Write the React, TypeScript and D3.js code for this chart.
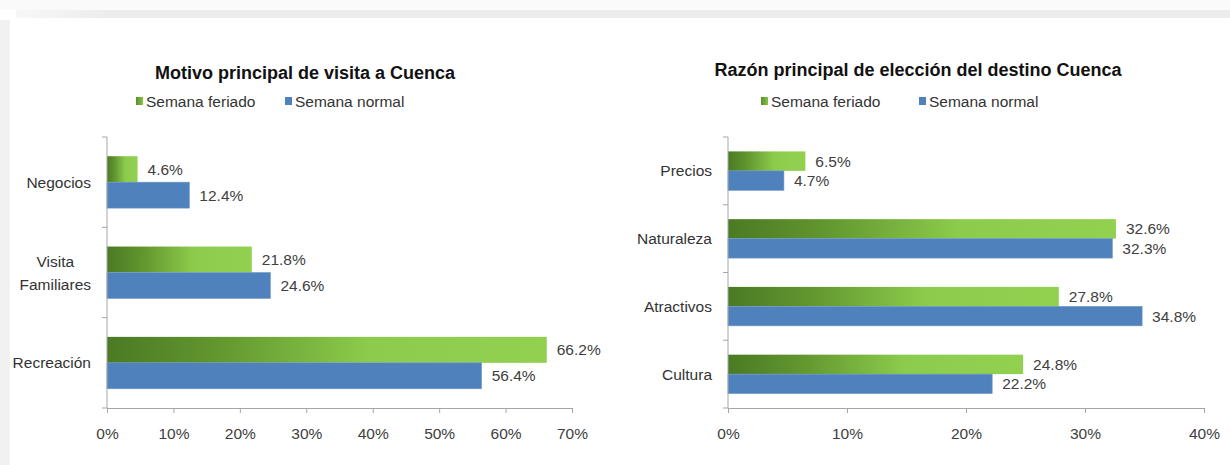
import React, { useEffect, useRef } from "react";
import * as d3 from "d3";

// ---------- data ----------
const SERIES = ["Semana feriado", "Semana normal"];

const LEFT_TITLE = "Motivo principal de visita a Cuenca";
const LEFT_CATEGORIES = ["Negocios", "Visita\nFamiliares", "Recreación"];
const LEFT_FERIADO = [4.6, 21.8, 66.2];
const LEFT_NORMAL = [12.4, 24.6, 56.4];
const LEFT_TICKS = [0, 10, 20, 30, 40, 50, 60, 70];

const RIGHT_TITLE = "Razón principal de elección del destino Cuenca";
const RIGHT_CATEGORIES = ["Precios", "Naturaleza", "Atractivos", "Cultura"];
const RIGHT_FERIADO = [6.5, 32.6, 27.8, 24.8];
const RIGHT_NORMAL = [4.7, 32.3, 34.8, 22.2];
const RIGHT_TICKS = [0, 10, 20, 30, 40];

// ---------- layout ----------
const W = 1230;
const H = 465;
const FONT = "'Liberation Sans', Arial, sans-serif";
const BLUE = "#4f81bd";
const AXIS = "#a6a6a6";
const TEXT = "#404040";

type Panel = {
  title: string;
  cats: string[];
  feriado: number[];
  normal: number[];
  ticks: number[];
  x0: number;
  x1: number;
  y0: number;
  y1: number;
  titleX: number;
  titleY: number;
  legendX: [number, number];
  legendY: number;
};

const PANELS: Panel[] = [
  {
    title: LEFT_TITLE,
    cats: LEFT_CATEGORIES,
    feriado: LEFT_FERIADO,
    normal: LEFT_NORMAL,
    ticks: LEFT_TICKS,
    x0: 107,
    x1: 572,
    y0: 137,
    y1: 408,
    titleX: 305,
    titleY: 79,
    legendX: [136, 285],
    legendY: 107,
  },
  {
    title: RIGHT_TITLE,
    cats: RIGHT_CATEGORIES,
    feriado: RIGHT_FERIADO,
    normal: RIGHT_NORMAL,
    ticks: RIGHT_TICKS,
    x0: 728,
    x1: 1204,
    y0: 137,
    y1: 408,
    titleX: 918,
    titleY: 76,
    legendX: [761, 919],
    legendY: 107,
  },
];

function drawPanel(svg: d3.Selection<SVGSVGElement, unknown, null, undefined>, p: Panel) {
  const g = svg.append("g");
  const max = p.ticks[p.ticks.length - 1];
  const x = d3.scaleLinear().domain([0, max]).range([p.x0, p.x1]);
  const y = d3.scaleBand<string>().domain(p.cats).range([p.y0, p.y1]).paddingInner(0).paddingOuter(0);
  const inner = d3
    .scaleBand<string>()
    .domain(SERIES)
    .range([0, y.bandwidth()])
    .paddingInner(0)
    .paddingOuter(0.74);

  // title
  g.append("text")
    .attr("x", p.titleX)
    .attr("y", p.titleY)
    .attr("text-anchor", "middle")
    .attr("font-family", FONT)
    .attr("font-weight", "bold")
    .attr("font-size", 18)
    .attr("fill", "#111")
    .text(p.title);

  // legend
  SERIES.forEach((s, i) => {
    const lx = p.legendX[i];
    g.append("rect")
      .attr("x", lx)
      .attr("y", p.legendY - 10)
      .attr("width", 7)
      .attr("height", 8)
      .attr("fill", i === 0 ? "url(#legendGreen)" : BLUE);
    g.append("text")
      .attr("x", lx + 10)
      .attr("y", p.legendY)
      .attr("font-family", FONT)
      .attr("font-size", 15.5)
      .attr("fill", "#333")
      .text(s);
  });

  // bars
  const rows = p.cats.map((c, i) => ({ cat: c, vals: [p.feriado[i], p.normal[i]] }));
  rows.forEach((r) => {
    r.vals.forEach((v, si) => {
      const by = (y(r.cat) as number) + (inner(SERIES[si]) as number);
      const bh = inner.bandwidth();
      g.append("rect")
        .attr("x", x(0))
        .attr("y", by)
        .attr("width", x(v) - x(0))
        .attr("height", bh)
        .attr("fill", si === 0 ? "url(#greenGrad)" : BLUE)
        .attr("stroke", si === 0 ? "none" : "#6f98c9")
        .attr("stroke-width", si === 0 ? 0 : 0.6);
      g.append("text")
        .attr("x", x(v) + 10)
        .attr("y", by + bh / 2)
        .attr("dy", "0.36em")
        .attr("font-family", FONT)
        .attr("font-size", 15.5)
        .attr("fill", TEXT)
        .text(d3.format(".1f")(v) + "%");
    });
  });

  // category axis
  g.append("line")
    .attr("x1", p.x0)
    .attr("x2", p.x0)
    .attr("y1", p.y0)
    .attr("y2", p.y1)
    .attr("stroke", AXIS);
  const bounds = p.cats.map((c) => y(c) as number).concat([p.y1]);
  bounds.forEach((b) => {
    g.append("line")
      .attr("x1", p.x0 - 5)
      .attr("x2", p.x0)
      .attr("y1", b)
      .attr("y2", b)
      .attr("stroke", AXIS);
  });

  // category labels
  p.cats.forEach((c) => {
    const lines = c.split("\n");
    const cy = (y(c) as number) + y.bandwidth() / 2;
    const lh = 23;
    const t = g
      .append("text")
      .attr("font-family", FONT)
      .attr("font-size", 15.5)
      .attr("fill", "#333")
      .attr("text-anchor", "middle");
    const spans = lines.map((ln, i) =>
      t
        .append("tspan")
        .attr("y", cy + (i - (lines.length - 1) / 2) * lh)
        .attr("dy", "0.36em")
        .text(ln)
    );
    let maxW = 0;
    spans.forEach((s) => {
      const n = s.node() as SVGTSpanElement;
      maxW = Math.max(maxW, n.getComputedTextLength());
    });
    const right = p.x0 - 16;
    spans.forEach((s) => s.attr("x", right - maxW / 2));
  });

  // value axis
  const ax = g
    .append("g")
    .attr("transform", `translate(0,${p.y1})`)
    .call(
      d3
        .axisBottom(x)
        .tickValues(p.ticks)
        .tickFormat((d) => `${d}%`)
        .tickSize(5)
        .tickSizeOuter(0)
        .tickPadding(15)
    );
  ax.select(".domain").attr("stroke", AXIS);
  ax.selectAll(".tick line").attr("stroke", AXIS);
  ax.selectAll(".tick text")
    .attr("font-family", FONT)
    .attr("font-size", 15.5)
    .attr("fill", TEXT);
}

export default function App() {
  const ref = useRef<SVGSVGElement>(null);
  useEffect(() => {
    const svg = d3.select(ref.current as SVGSVGElement);
    svg.selectAll("*").remove();

    const defs = svg.append("defs");
    const gg = defs
      .append("linearGradient")
      .attr("id", "greenGrad")
      .attr("x1", "0")
      .attr("x2", "1")
      .attr("y1", "0")
      .attr("y2", "0");
    gg.append("stop").attr("offset", "0%").attr("stop-color", "#4a7a24");
    gg.append("stop").attr("offset", "25%").attr("stop-color", "#62962f");
    gg.append("stop").attr("offset", "60%").attr("stop-color", "#8ccc4c");
    gg.append("stop").attr("offset", "100%").attr("stop-color", "#92d050");
    const lg = defs
      .append("linearGradient")
      .attr("id", "legendGreen")
      .attr("x1", "0")
      .attr("x2", "1")
      .attr("y1", "0")
      .attr("y2", "0");
    lg.append("stop").attr("offset", "0%").attr("stop-color", "#5a8e2c");
    lg.append("stop").attr("offset", "100%").attr("stop-color", "#86c447");

    const bg = defs
      .append("linearGradient")
      .attr("id", "bandGrad")
      .attr("x1", "0")
      .attr("x2", "1");
    bg.append("stop").attr("offset", "0%").attr("stop-color", "#f7f7f7");
    bg.append("stop").attr("offset", "8%").attr("stop-color", "#ececec");
    bg.append("stop").attr("offset", "100%").attr("stop-color", "#ececec");

    // background
    svg.append("rect").attr("width", W).attr("height", H).attr("fill", "#ffffff");
    svg.append("rect").attr("width", W).attr("height", 10).attr("fill", "#fafafa");
    svg.append("rect").attr("x", 16).attr("y", 10).attr("width", W - 16).attr("height", 8).attr("fill", "url(#bandGrad)");
    svg.append("rect").attr("x", 0).attr("y", 20).attr("width", 10).attr("height", H - 20).attr("fill", "#f1f1f1");

    PANELS.forEach((p) => drawPanel(svg, p));
  }, []);

  return (
    <svg
      ref={ref}
      width={W}
      height={H}
      style={{ position: "absolute", left: 0, top: 0, display: "block" }}
    />
  );
}
